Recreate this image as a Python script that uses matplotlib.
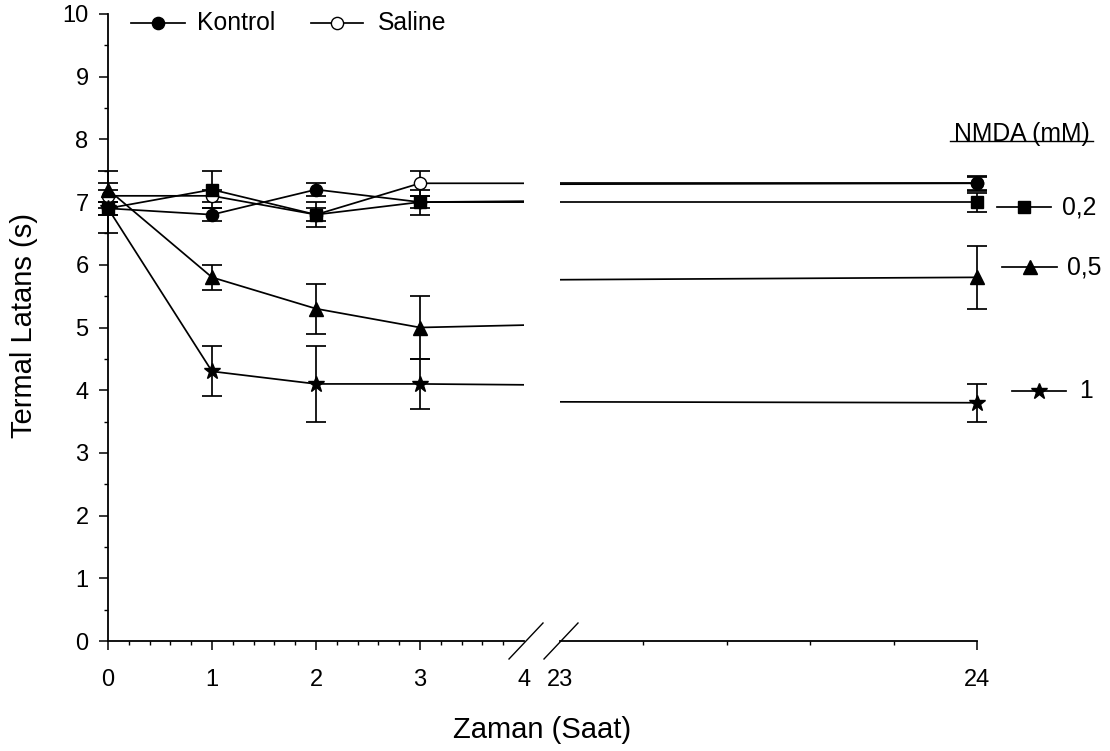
import matplotlib
matplotlib.use("Agg")
import matplotlib.pyplot as plt
import numpy as np
from matplotlib.lines import Line2D

plt.rcParams['font.family'] = ['Liberation Sans', 'DejaVu Sans']

# ---------------- data ----------------
hours = [0, 1, 2, 3, 24]

kontrol = [6.9, 6.8, 7.2, 7.0, 7.3]
kontrol_err = [0.4, 0.1, 0.1, 0.1, 0.12]

saline = [7.1, 7.1, 6.8, 7.3, 7.3]
saline_err = [0.1, 0.1, 0.1, 0.2, 0.1]

nmda_02 = [6.9, 7.2, 6.8, 7.0, 7.0]
nmda_02_err = [0.1, 0.3, 0.2, 0.2, 0.15]

nmda_05 = [7.2, 5.8, 5.3, 5.0, 5.8]
nmda_05_err = [0.3, 0.2, 0.4, 0.5, 0.5]

nmda_1 = [6.9, 4.3, 4.1, 4.1, 3.8]
nmda_1_err = [0.1, 0.4, 0.6, 0.4, 0.3]

left_ticks = [0, 1, 2, 3, 4]
right_ticks = [23, 24]
y_ticks = list(range(0, 11))

xlabel = "Zaman (Saat)"
ylabel = "Termal Latans (s)"
legend_title = "NMDA (mM)"

# ---------------- styles ----------------
series = [
    ("Saline", saline, saline_err, dict(marker='o', mfc='white', mec='black', ms=8.8)),
    ("Kontrol", kontrol, kontrol_err, dict(marker='o', mfc='black', mec='black', ms=8.8)),
    ("0,2", nmda_02, nmda_02_err, dict(marker='s', mfc='black', mec='black', ms=9.2)),
    ("0,5", nmda_05, nmda_05_err, dict(marker='^', mfc='black', mec='black', ms=10)),
    ("1", nmda_1, nmda_1_err, dict(marker='*', mfc='black', mec='black', ms=12)),
]

W, H = 1110, 751
fig = plt.figure(figsize=(W / 100, H / 100), dpi=100)

def fx(px):
    return px / W

def fy(py):
    return 1 - py / H

y_top, y_bot = 14, 641
axL = fig.add_axes([fx(108), fy(y_bot), fx(524) - fx(108), (y_bot - y_top) / H])
axR = fig.add_axes([fx(560), fy(y_bot), fx(977) - fx(560), (y_bot - y_top) / H])

LW = 1.25
CAP = 7.2
TICKFS = 17

for ax, (x0, x1) in ((axL, (0, 4)), (axR, (23, 24))):
    ax.set_xlim(x0, x1)
    ax.set_ylim(0, 10)
    for name, vals, errs, st in series:
        # connecting line (clipped so it breaks at the gap)
        ax.plot(hours, vals, color='black', lw=LW, zorder=2, clip_on=True)
        idx = [i for i, h in enumerate(hours) if x0 <= h <= x1]
        xs = [hours[i] for i in idx]
        ys = [vals[i] for i in idx]
        es = [errs[i] for i in idx]
        eb = ax.errorbar(xs, ys, yerr=es, fmt='none', ecolor='black',
                         elinewidth=LW, capsize=CAP, capthick=LW, zorder=3)
        for art in eb.lines[1] + eb.lines[2]:
            art.set_clip_on(False)
        ax.plot(xs, ys, linestyle='none', mew=1.0, zorder=4, clip_on=False, **st)
    ax.spines['top'].set_visible(False)
    ax.spines['right'].set_visible(False)
    for s in ax.spines.values():
        s.set_linewidth(1.3)
    ax.tick_params(which='major', length=6.5, width=1.1, labelsize=TICKFS,
                   direction='out')
    ax.tick_params(which='minor', length=3.2, width=1.0, direction='out')
    ax.tick_params(axis='x', which='major', pad=13.5)
    ax.patch.set_visible(False)

# left axis ticks
axL.set_xticks(left_ticks)
axL.set_xticklabels([str(t) for t in left_ticks])
axL.set_xticks(np.arange(0.2, 4.0, 0.2), minor=True)
axL.xaxis.get_major_ticks()[-1].tick1line.set_visible(False)
axL.set_yticks(y_ticks)
axL.set_yticklabels([str(t) for t in y_ticks])
axL.set_yticks(np.arange(0.5, 10, 1.0), minor=True)
axL.tick_params(axis='y', which='major', pad=7.5)

# right axis ticks
axR.set_xticks(right_ticks)
axR.set_xticklabels([str(t) for t in right_ticks])
axR.set_xticks([23.2, 23.4, 23.6, 23.8], minor=True)
axR.xaxis.get_major_ticks()[0].tick1line.set_visible(False)
axR.spines['left'].set_visible(False)
axR.set_yticks([])

# axis-break slashes
dx, dy = 17, 18
for cx in (526, 561):
    fig.add_artist(Line2D([fx(cx - dx), fx(cx + dx)], [fy(641 + dy), fy(641 - dy)],
                          color='black', lw=1.0))

# axis labels
fig.text(fx(542.5), fy(730), xlabel, ha='center', va='center', fontsize=21)
fig.text(fx(24), fy(325), ylabel, ha='center', va='center', rotation=90, fontsize=21)

# legends (drawn manually)
LEGFS = 17.8
st_map = {name: st for name, _, _, st in series}

def legend_entry(x_a, x_b, y, name, tx, fs=LEGFS):
    xm = (x_a + x_b) / 2
    fig.add_artist(Line2D([fx(x_a), fx(x_b)], [fy(y), fy(y)], color='black', lw=LW))
    st = st_map[name]
    fig.add_artist(Line2D([fx(xm)], [fy(y)], linestyle='none', mew=1.0, **st))
    fig.text(fx(tx), fy(y), name, ha='left', va='center', fontsize=fs)

legend_entry(131, 185, 23, "Kontrol", 197)
legend_entry(311, 363, 23, "Saline", 378)
legend_entry(997, 1051, 207, "0,2", 1062)
legend_entry(1002, 1057, 267, "0,5", 1067)
legend_entry(1012, 1066, 391, "1", 1079)

fig.text(fx(1022), fy(141.5), legend_title, ha='center', va='baseline', fontsize=LEGFS)
fig.add_artist(Line2D([fx(950), fx(1093)], [fy(141), fy(141)], color='black', lw=1.0))

fig.savefig("out.png", dpi=100)
